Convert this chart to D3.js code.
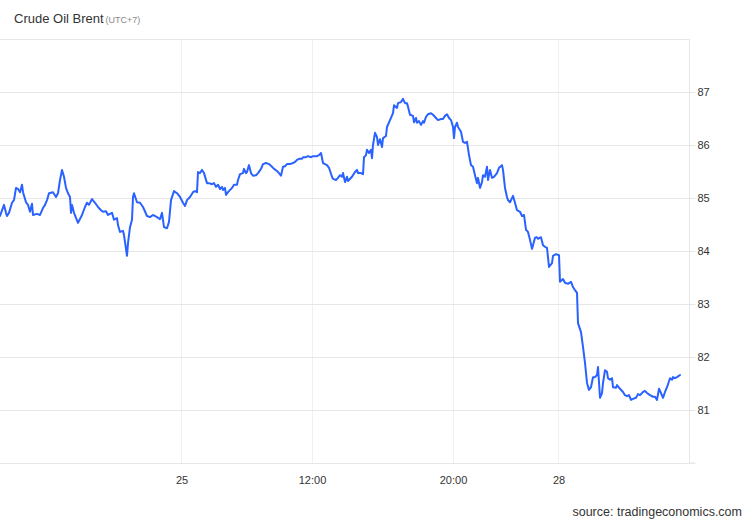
<!DOCTYPE html>
<html>
<head>
<meta charset="utf-8">
<script src="https://cdn.jsdelivr.net/npm/d3@7"></script>
<style>
  html, body { margin: 0; padding: 0; background: #fff; }
  svg { display: block; font-family: "Liberation Sans", Arial, sans-serif; }
</style>
</head>
<body>
<svg id="chart" width="750" height="520"></svg>
<script>
// ---- data ----
const title = "Crude Oil Brent";
const subtitle = "(UTC+7)";
const source = "source: tradingeconomics.com";

// ordinal trading-time slot of each quote
const slot = [0,2,3,3.5,4.5,6,7,8,9,10,11,11.5,13,14,15,16,16.5,18.5,20,21.5,22.5,23.5,24.5,26.5,28,29,30,31,32,33,34,35,35.5,36,37,39,41,42.5,43.5,44.5,46,47.5,49,50.5,51.5,53,54,56,57,58.5,59,60,61.5,62,63.5,64,65,66,66.5,67,68.5,70,71.5,73.5,75,76.5,78.5,80,81,82,83.5,84.5,85.5,87,88.5,90,91.5,92.5,93.5,95,96.5,97.5,98.5,99,100,101,102,103.5,104.5,106,107,108,109,110,111,111.5,112.5,113,114,116,117,118.5,119,120,121.5,122,123,123.5,124.5,125.5,126.5,128,129,130.5,131.5,133,134.5,136,137,138.5,139.5,140.5,141.5,142.5,143.5,145,146.5,147.5,148.5,149.5,151,151.5,153,154,155.5,156.5,158.5,159.5,160.5,161.5,162.5,163.5,164.5,166,166.5,168,169,170,171,171.5,172.5,173.5,174,176,177.5,178.5,179,180.5,181.5,182,183,183.5,184.5,185.5,186,186.5,187.5,188.5,189,190,191,191.5,193,193.5,195,196.5,197,198.5,199,200.5,201.5,202.5,203.5,204,205,206.5,207,208,208.5,209.5,210.5,211.5,212,213,214,215.5,216.5,218,219,220.5,221.5,222.5,223.5,224.5,225.5,226.5,227,227.5,228.5,229,230.5,231.5,232.5,233.5,234.5,235.5,236.5,237.5,238.5,239,240,241,241.5,242.5,243.5,244,245,246,247,248.5,249.5,251,251.5,252.5,253.5,254,255,256.5,257.5,258.5,260,261,262,263,264,265,266,266.5,267.5,268.5,269,270.5,271.5,272.5,273.5,274.5,276,276.5,278,279.5,280,281.5,282.5,284,285.5,286.5,287.5,288.5,289,290.5,291.5,292.5,293.5,294.5,295.5,296.5,297.5,298.5,299,300,301,301.5,302.5,303.5,304,305,306,306.5,308,308.5,310,311.5,312.5,313.5,314.5,315.5,316.5,318,319,320,321.5,322.5,323.5,325,326.5,327.5,328.5,329.5,330.5,331.5,332.5,333.5,335,336,336.5,337.5,338.5,340];

// price (USD/bbl)
const price = [84.66,84.87,84.72,84.66,84.72,84.91,84.96,85.19,85.17,85.11,85.25,85.11,84.92,84.87,84.74,84.89,84.68,84.70,84.68,84.81,84.87,84.96,85.09,85.11,85.02,85.09,85.34,85.53,85.40,85.19,85.09,85.02,84.72,84.87,84.72,84.53,84.68,84.83,84.91,84.87,84.98,84.91,84.83,84.77,84.74,84.75,84.68,84.72,84.59,84.62,84.49,84.36,84.38,84.30,83.91,84.15,84.45,84.59,85.02,85.09,84.92,84.91,84.83,84.66,84.64,84.68,84.64,84.60,84.72,84.45,84.43,84.55,84.96,85.13,85.09,85.02,84.91,84.85,84.96,85.02,85.11,85.13,85.11,85.49,85.47,85.53,85.47,85.28,85.28,85.26,85.28,85.21,85.25,85.17,85.21,85.15,85.19,85.06,85.11,85.19,85.25,85.25,85.34,85.45,85.47,85.55,85.47,85.49,85.62,85.47,85.42,85.43,85.47,85.55,85.64,85.66,85.64,85.59,85.55,85.51,85.47,85.42,85.59,85.60,85.64,85.64,85.66,85.68,85.72,85.74,85.74,85.77,85.77,85.79,85.77,85.79,85.79,85.81,85.85,85.66,85.64,85.62,85.57,85.40,85.36,85.34,85.38,85.43,85.40,85.47,85.30,85.40,85.32,85.40,85.49,85.53,85.47,85.47,85.45,85.77,85.81,85.91,85.85,85.91,85.75,86.00,86.23,86.15,86.00,86.11,85.96,86.13,86.17,86.34,86.47,86.60,86.75,86.70,86.79,86.81,86.87,86.79,86.79,86.72,86.57,86.55,86.43,86.51,86.42,86.45,86.38,86.45,86.42,86.53,86.58,86.60,86.57,86.51,86.47,86.49,86.49,86.55,86.58,86.51,86.47,86.34,86.13,86.34,86.42,86.34,86.25,86.06,86.04,86.06,85.81,85.62,85.59,85.43,85.28,85.38,85.19,85.30,85.43,85.40,85.59,85.34,85.53,85.38,85.40,85.47,85.57,85.62,85.53,85.19,85.02,84.96,84.92,85.04,84.91,84.77,84.74,84.66,84.68,84.40,84.36,84.21,84.04,84.11,84.25,84.26,84.23,84.26,84.11,84.08,84.06,83.70,83.77,83.91,83.94,83.92,83.42,83.47,83.40,83.38,83.42,83.32,83.26,83.21,82.64,82.47,82.19,81.89,81.51,81.38,81.43,81.62,81.62,81.66,81.81,81.23,81.32,81.51,81.75,81.72,81.60,81.57,81.60,81.43,81.42,81.47,81.40,81.34,81.28,81.26,81.28,81.19,81.21,81.23,81.30,81.28,81.34,81.36,81.32,81.28,81.25,81.25,81.19,81.40,81.32,81.23,81.34,81.43,81.60,81.57,81.62,81.60,81.62,81.66];

const xTickSlots = [90.75, 156, 226.5, 279.25];
const xTickLabels = ["25", "12:00", "20:00", "28"];
const yTicks = [81, 82, 83, 84, 85, 86, 87];
const yDomain = [80, 88];
const slotDomain = [0, 340];

// ---- chart ----
const svg = d3.select("#chart");
const plot = { left: 0, right: 689, top: 39, bottom: 463 };

const x = d3.scaleLinear().domain(slotDomain).range([0, 680]);
const y = d3.scaleLinear().domain(yDomain).range([plot.bottom, plot.top]);

// title
const t = svg.append("text").attr("x", 14).attr("y", 23)
  .attr("font-size", 13).attr("fill", "#333");
t.append("tspan").text(title);
t.append("tspan").attr("dx", 2).attr("font-size", 9).attr("fill", "#888").text(subtitle);

// vertical gridlines
svg.append("g").selectAll("line").data(xTickSlots).join("line")
  .attr("x1", d => x(d)).attr("x2", d => x(d))
  .attr("y1", plot.top).attr("y2", plot.bottom)
  .attr("stroke", "#f0f0f0").attr("stroke-width", 1)
  .attr("shape-rendering", "crispEdges");

// horizontal gridlines (including top border)
svg.append("g").selectAll("line").data(yTicks.concat([88])).join("line")
  .attr("x1", plot.left).attr("x2", plot.right)
  .attr("y1", d => Math.round(y(d)) + 0.5).attr("y2", d => Math.round(y(d)) + 0.5)
  .attr("stroke", "#e6e6e6").attr("stroke-width", 1);

// right axis
const yAxis = d3.axisRight(y).tickValues(yTicks).tickSize(6).tickPadding(2)
  .tickFormat(d3.format("d"));
const gy = svg.append("g").attr("transform", `translate(${plot.right + 0.5},0)`).call(yAxis);
gy.select(".domain").attr("stroke", "#e6e6e6").attr("d", `M0,${plot.top}V${plot.bottom}M0,${plot.bottom}H6`);
gy.selectAll(".tick line").attr("stroke", "#e6e6e6");
gy.selectAll(".tick text").attr("font-size", 11).attr("fill", "#333")
  .attr("font-family", "'Liberation Sans', Arial, sans-serif");

// bottom axis
const xAxis = d3.axisBottom(x).tickValues(xTickSlots).tickSize(0).tickPadding(13)
  .tickFormat((d, i) => xTickLabels[i]);
const gx = svg.append("g").attr("transform", `translate(0,${plot.bottom + 0.5})`).call(xAxis);
gx.select(".domain").attr("stroke", "#e6e6e6").attr("d", `M0,0H${plot.right + 6}`);
gx.selectAll(".tick text").attr("font-size", 11).attr("fill", "#333")
  .attr("font-family", "'Liberation Sans', Arial, sans-serif");

// line
const pts = slot.map((s, i) => [s, price[i]]);
svg.append("path").datum(pts)
  .attr("fill", "none").attr("stroke", "#2962ff").attr("stroke-width", 2)
  .attr("stroke-linejoin", "round").attr("stroke-linecap", "round")
  .attr("d", d3.line().x(d => x(d[0])).y(d => y(d[1])));

// source
svg.append("text").attr("x", 742).attr("y", 516).attr("text-anchor", "end")
  .attr("font-size", 12.5).attr("fill", "#333").text(source);
</script>
</body>
</html>
